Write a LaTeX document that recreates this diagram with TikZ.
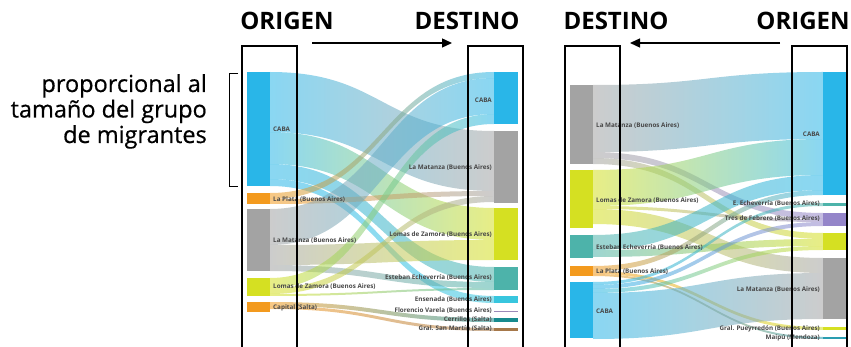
\documentclass[tikz,border=0pt]{standalone}
\usepackage{fontspec}
\setmainfont{Open Sans}
\newfontfamily\notefont{Open Sans}[FakeBold=0.6]
\usepackage{tikz}
\usetikzlibrary{arrows.meta}
\definecolor{cCABA}{HTML}{29B6E8}
\definecolor{cGray}{HTML}{A3A3A3}
\definecolor{cLime}{HTML}{D5E022}
\definecolor{cTeal}{HTML}{4DB3AA}
\definecolor{cOrange}{HTML}{F39A1E}
\definecolor{cCyan}{HTML}{38C6DE}
\definecolor{cFV}{HTML}{9C8AB8}
\definecolor{cDkTeal}{HTML}{178A8E}
\definecolor{cBrown}{HTML}{A6784A}
\definecolor{cPurple}{HTML}{9485C9}
\definecolor{cMaipu}{HTML}{2A9DB0}
\tikzset{
  title/.style={font=\bfseries\fontsize{24}{24}\selectfont, anchor=base, inner sep=0pt},
  lbl/.style={font=\bfseries\fontsize{6.3}{7}\selectfont, text=black!72, inner sep=0pt},
  frame/.style={line width=1.4pt, black},
  pointer/.style={line width=1.4pt, -{Triangle[length=10pt,width=9pt]}}
}
% band between two stacked nodes: [left colour:right colour](x1,top1,bottom1)(x2,top2)
\def\band[#1:#2](#3,#4,#5)(#6,#7){\shade[left color=#1,right color=#2,opacity=.55] (#3,#4) .. controls ({(#3+#6)/2},#4) and ({(#3+#6)/2},#7) .. (#6,#7) -- (#6,{#7+#5-#4}) .. controls ({(#3+#6)/2},{#7+#5-#4}) and ({(#3+#6)/2},#5) .. (#3,#5) -- cycle;}

\begin{document}
\begin{tikzpicture}[x=1pt, y=-1pt]
		%%%%% START %%%%%
		\useasboundingbox (0,0) rectangle (851,347);
		
		% note and bracket
		\node[font=\notefont\fontsize{23.5}{25.5}\selectfont, align=right, anchor=base east, inner sep=0pt] (note) at (207,143) {proporcional al\\tamaño del grupo\\de migrantes};
		\draw[line width=0.8pt] (238,73) -- (229,73) -- (229,186) -- (238,186);
		
		%%%%% left: origen -> destino %%%%%
		\node[title] (origL) at (287,30) {ORIGEN};
		\node[title] (destL) at (467,30) {DESTINO};
		\coordinate (aL1) at (312,43);
		\coordinate (aL2) at (452,43);
		\draw[pointer] (aL1) -- (aL2);
		
		\band[cCABA:cGray](270,72,132)(494,131)
		\band[cCABA:cLime](270,132,164)(494,208)
		\band[cCABA:cTeal](270,164,179)(494,267)
		\band[cCABA:cCyan](270,179,186)(494,296)
		\band[cOrange:cCABA](270,193,199)(494,72)
		\band[cOrange:cGray](270,199,204)(494,191)
		\band[cGray:cCABA](270,209,245)(494,78)
		\band[cGray:cLime](270,245,265)(494,240)
		\band[cGray:cTeal](270,265,271)(494,282)
		\band[cLime:cCABA](270,278,288)(494,114)
		\band[cLime:cGray](270,288,294)(494,196)
		\band[cLime:cTeal](270,294,296)(494,288)
		\band[cOrange:cDkTeal](270,302,306)(494,318)
		\band[cOrange:cBrown](270,306,309)(494,328)
		
		\fill[cCABA] (247,72) rectangle (270,186);
		\fill[cOrange] (247,193) rectangle (270,204);
		\fill[cGray] (247,209) rectangle (270,271);
		\fill[cLime] (247,278) rectangle (270,296);
		\fill[cOrange] (247,302) rectangle (270,312);
		
		\fill[cCABA] (494,72) rectangle (518,124);
		\fill[cGray] (494,131) rectangle (518,203);
		\fill[cLime] (494,208) rectangle (518,260);
		\fill[cTeal] (494,267) rectangle (518,290);
		\fill[cCyan] (494,296) rectangle (518,303);
		\fill[cFV] (494,310.5) rectangle (518,311.5);
		\fill[cDkTeal] (494,318) rectangle (518,322);
		\fill[cBrown] (494,328) rectangle (518,331);
		
		\node[lbl, anchor=west] (oL1) at (273,129) {CABA};
		\node[lbl, anchor=west] (oL2) at (273,200) {La Plata (Buenos Aires)};
		\node[lbl, anchor=west] (oL3) at (273,241) {La Matanza (Buenos Aires)};
		\node[lbl, anchor=west] (oL4) at (273,287) {Lomas de Zamora (Buenos Aires)};
		\node[lbl, anchor=west] (oL5) at (273,308) {Capital (Salta)};
		
		\node[lbl, anchor=east] (dL1) at (492,100) {CABA};
		\node[lbl, anchor=east] (dL2) at (492,168) {La Matanza (Buenos Aires)};
		\node[lbl, anchor=east] (dL3) at (492,235) {Lomas de Zamora (Buenos Aires)};
		\node[lbl, anchor=east] (dL4) at (492,278) {Esteban Echeverría (Buenos Aires)};
		\node[lbl, anchor=east] (dL5) at (492,300) {Ensenada (Buenos Aires)};
		\node[lbl, anchor=east] (dL6) at (492,311) {Florencio Varela (Buenos Aires)};
		\node[lbl, anchor=east] (dL7) at (492,320) {Cerrillos (Salta)};
		\node[lbl, anchor=east] (dL8) at (492,329) {Gral. San Martín (Salta)};
		
		\draw[frame] (242,347) -- (242,46) -- (297,46) -- (297,347);
		\draw[frame] (468,347) -- (468,46) -- (523,46) -- (523,347);
		
		%%%%% right: destino <- origen %%%%%
		\node[title] (destR) at (616,30) {DESTINO};
		\node[title] (origR) at (803,30) {ORIGEN};
		\coordinate (aR1) at (780,43);
		\coordinate (aR2) at (630,43);
		\draw[pointer] (aR1) -- (aR2);
		
		\band[cGray:cCABA](593,85,152)(823,72)
		\band[cGray:cPurple](593,152,158)(823,213)
		\band[cGray:cLime](593,158,164)(823,233)
		\band[cLime:cCABA](593,170,206)(823,139)
		\band[cLime:cPurple](593,206,209)(823,219)
		\band[cLime:cGray](593,209,224)(823,258)
		\band[cTeal:cCABA](593,235,250)(823,175)
		\band[cTeal:cLime](593,250,257)(823,239)
		\band[cOrange:cCABA](593,266,271)(823,190)
		\band[cOrange:cLime](593,271,274)(823,327)
		\band[cOrange:cMaipu](593,274,276)(823,337)
		\band[cCABA:cTeal](593,282,285)(823,203)
		\band[cCABA:cPurple](593,285,289)(823,222)
		\band[cCABA:cLime](593,289,293)(823,246)
		\band[cCABA:cGray](593,293,339)(823,273)
		
		\fill[cGray] (570,85) rectangle (593,164);
		\fill[cLime] (570,170) rectangle (593,228);
		\fill[cTeal] (570,235) rectangle (593,258);
		\fill[cOrange] (570,266) rectangle (593,276);
		\fill[cCABA] (570,282) rectangle (593,338);
		
		\fill[cCABA] (823,72) rectangle (846,195);
		\fill[cTeal] (823,203) rectangle (846,206);
		\fill[cPurple] (823,213) rectangle (846,226);
		\fill[cLime] (823,233) rectangle (846,250);
		\fill[cGray] (823,258) rectangle (846,319);
		\fill[cLime] (823,327) rectangle (846,330);
		\fill[cMaipu] (823,337) rectangle (846,339);
		
		\node[lbl, anchor=west] (dR1) at (596,126) {La Matanza (Buenos Aires)};
		\node[lbl, anchor=west] (dR2) at (596,201) {Lomas de Zamora (Buenos Aires)};
		\node[lbl, anchor=west] (dR3) at (596,248) {Esteban Echeverría (Buenos Aires)};
		\node[lbl, anchor=west] (dR4) at (596,272) {La Plata (Buenos Aires)};
		\node[lbl, anchor=west] (dR5) at (596,311) {CABA};
		
		\node[lbl, anchor=east] (oR1) at (820,134) {CABA};
		\node[lbl, anchor=east] (oR2) at (820,204) {E. Echeverría (Buenos Aires)};
		\node[lbl, anchor=east] (oR3) at (820,219) {Tres de Febrero (Buenos Aires)};
		\node[lbl, anchor=east] (oR4) at (820,290) {La Matanza (Buenos Aires)};
		\node[lbl, anchor=east] (oR5) at (820,329) {Gral. Pueyrredón (Buenos Aires)};
		\node[lbl, anchor=east] (oR6) at (820,338) {Maipú (Mendoza)};
		
		\draw[frame] (565,347) -- (565,46) -- (620,46) -- (620,347);
		\draw[frame] (792,347) -- (792,46) -- (847,46) -- (847,347);
		
		%%%%% END %%%%%
\end{tikzpicture}
\end{document}
